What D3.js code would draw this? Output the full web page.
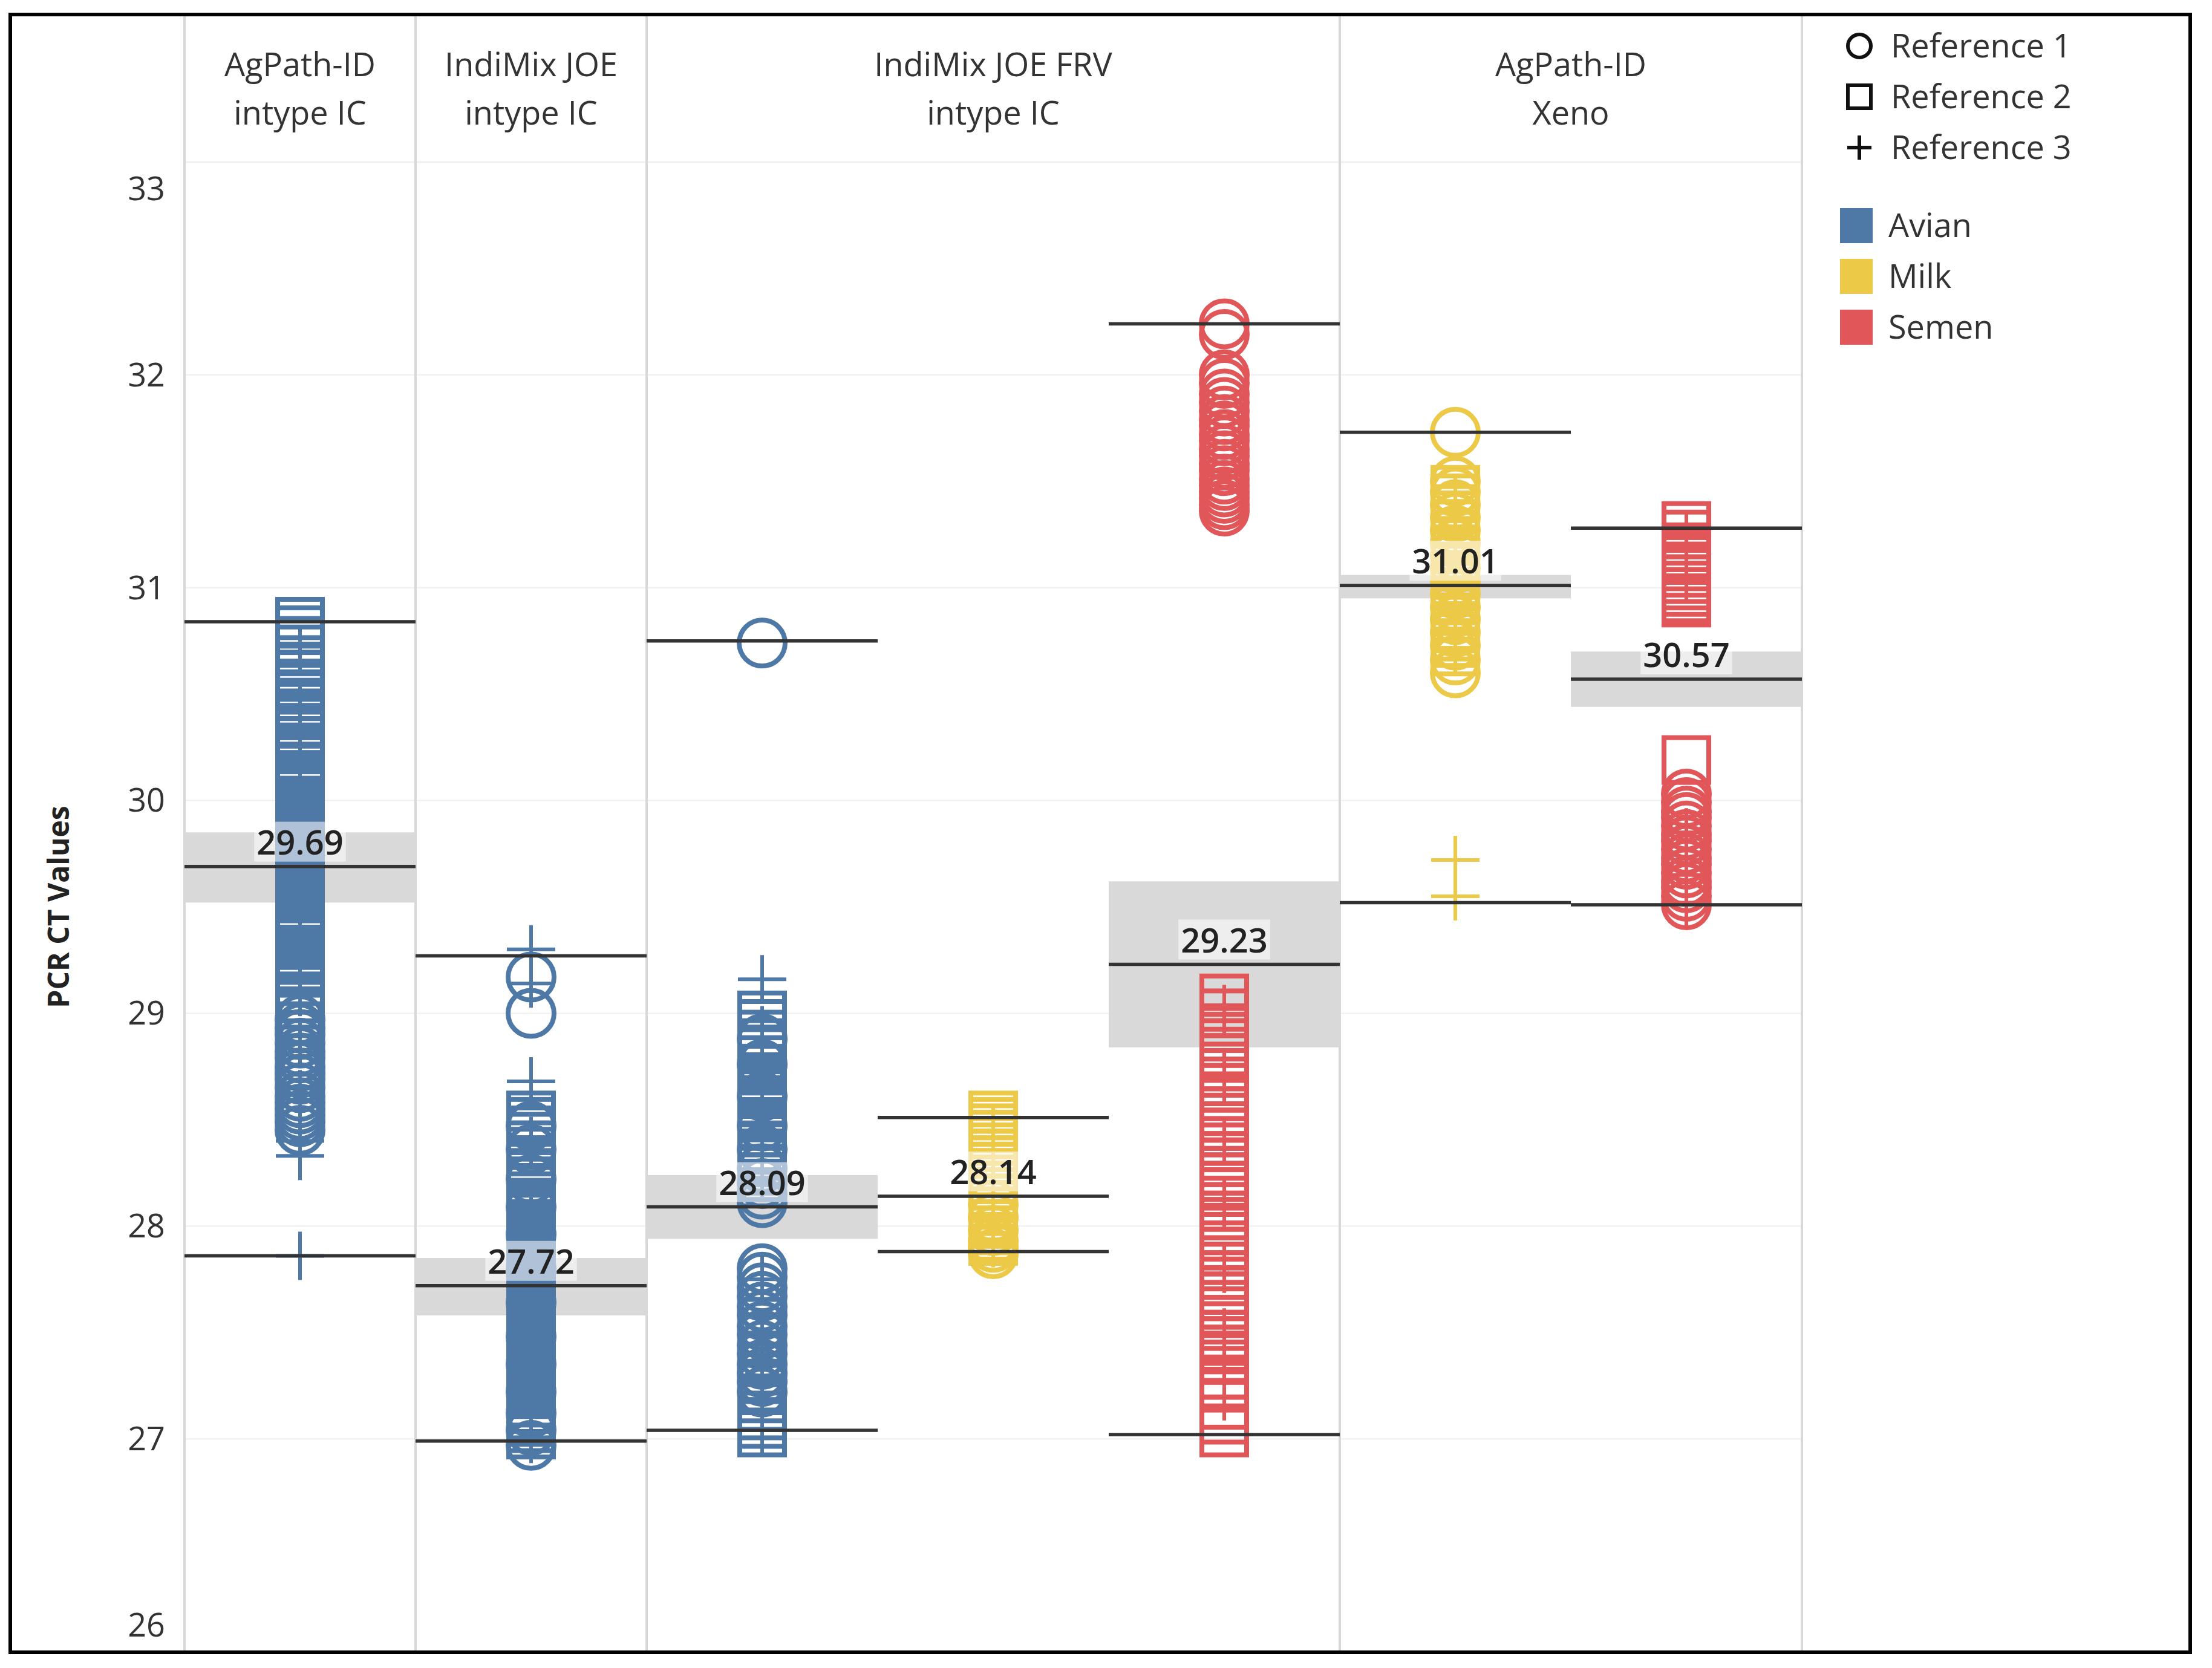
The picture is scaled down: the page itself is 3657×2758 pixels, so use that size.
<!DOCTYPE html>
<html><head><meta charset="utf-8">
<script src="https://cdn.jsdelivr.net/npm/d3@7"></script>
<style>body{margin:0;background:#fff}svg{display:block}</style>
</head><body>
<svg id="chart" width="3657" height="2758"></svg>
<script>
// ---------- DATA ----------
const kitNames = ["AgPath-ID\nintype IC", "IndiMix JOE\nintype IC", "IndiMix JOE FRV\nintype IC", "AgPath-ID\nXeno"];
const columnKit = [0, 1, 2, 2, 2, 3, 3];
const columnSample = ["Avian", "Avian", "Avian", "Milk", "Semen", "Milk", "Semen"];
const sampleTypes = ["Avian", "Milk", "Semen"];
const sampleColors = ["#4E79A7", "#EDC948", "#E15759"];
const referenceNames = ["Reference 1", "Reference 2", "Reference 3"];
const yTicks = [26, 27, 28, 29, 30, 31, 32, 33];

// Reference 1 (circle) CT values per column
const ref1Values = [
  [28.97, 28.93, 28.90, 28.86, 28.82, 28.79, 28.75, 28.72, 28.69, 28.65, 28.61, 28.58, 28.55, 28.52, 28.49, 28.45],
  [29.17, 29.00, 28.47, 28.36, 28.22, 28.09, 27.96, 27.80, 27.64, 27.48, 27.35, 27.22, 27.12, 27.04, 26.97],
  [30.74, 28.88, 28.76, 28.61, 28.47, 28.36, 28.27, 28.20, 28.15, 28.11,
   27.80, 27.76, 27.71, 27.67, 27.62, 27.58, 27.53, 27.49, 27.44, 27.40, 27.35, 27.31, 27.27, 27.22],
  [28.10, 28.04, 27.98, 27.93, 27.90, 27.87],
  [32.24, 32.19, 32.00, 31.96, 31.91, 31.87, 31.83, 31.79, 31.76, 31.72, 31.69, 31.65, 31.62, 31.58, 31.55, 31.51, 31.48, 31.45, 31.42, 31.39, 31.36],
  [31.73, 31.50, 31.45, 31.39, 31.33, 31.27, 31.21, 31.15, 31.09, 31.03, 30.97, 30.91, 30.85, 30.79, 30.73, 30.66, 30.60],
  [30.03, 29.99, 29.95, 29.92, 29.88, 29.84, 29.81, 29.77, 29.73, 29.70, 29.66, 29.62, 29.59, 29.55, 29.51]
];
// Reference 2 (square) CT values per column
const ref2Values = [
  [30.84, 30.80, 30.75, 30.71, 30.66, 30.62, 30.59, 30.55, 30.53, 30.49, 30.46, 30.44, 30.40, 30.37, 30.33, 30.31, 30.28, 30.24, 30.21, 30.19,
   30.15, 30.12, 30.09, 30.05, 30.03, 29.99, 29.96, 29.93, 29.90, 29.86, 29.83, 29.80, 29.77, 29.73, 29.70, 29.67, 29.64, 29.61, 29.57, 29.54,
   29.51, 29.48, 29.45, 29.41, 29.38, 29.35, 29.33, 29.29, 29.26, 29.22, 29.19, 29.15, 29.11, 29.07, 29.04, 29.00],
  [28.52, 28.49, 28.45, 28.42, 28.38, 28.35, 28.31, 28.28, 28.25, 28.21, 28.18, 28.14, 28.11, 28.08, 28.05, 28.01, 27.98, 27.95, 27.91, 27.88,
   27.85, 27.82, 27.78, 27.75, 27.72, 27.69, 27.66, 27.62, 27.59, 27.56, 27.53, 27.50, 27.46, 27.43, 27.40, 27.37, 27.33, 27.30, 27.27, 27.24,
   27.21, 27.17, 27.14, 27.11, 27.08, 27.05, 27.02],
  [28.99, 28.95, 28.90, 28.86, 28.83, 28.78, 28.74, 28.70, 28.67, 28.63, 28.59, 28.55, 28.52, 28.48, 28.44, 28.41, 28.37, 28.33, 28.30, 28.26, 28.23, 28.20,
   27.55, 27.47, 27.38, 27.29, 27.24, 27.19, 27.15, 27.11, 27.07, 27.03],
  [28.52, 28.49, 28.46, 28.43, 28.40, 28.37, 28.34, 28.31, 28.28, 28.25, 28.22, 28.19, 28.16, 28.13, 28.10, 28.07, 28.04, 28.01, 27.98, 27.95, 27.93],
  [29.07, 29.00, 28.93, 28.89, 28.86, 28.82, 28.79, 28.75, 28.72, 28.68, 28.65, 28.61, 28.58, 28.54, 28.51, 28.47, 28.44, 28.40, 28.37, 28.33,
   28.30, 28.26, 28.23, 28.19, 28.16, 28.12, 28.09, 28.05, 28.02, 27.98, 27.95, 27.91, 27.88, 27.84, 27.81, 27.77, 27.74, 27.70, 27.67, 27.63,
   27.60, 27.56, 27.53, 27.49, 27.46, 27.42, 27.38, 27.26, 27.16, 27.09, 27.03],
  [31.46, 31.42, 31.37, 31.34, 31.30, 31.25, 31.22, 31.18, 31.13, 31.10, 31.06, 31.01, 30.98, 30.94, 30.89, 30.86, 30.82, 30.77, 30.74, 30.70],
  [31.29, 31.25, 31.19, 31.16, 31.13, 31.10, 31.07, 31.04, 31.01, 30.98, 30.95, 30.93, 30.19]
];
// Reference 3 (plus) CT values per column
const ref3Values = [
  [30.70, 30.45, 30.20, 29.95, 29.60, 29.35, 29.10, 28.86, 28.62, 28.40, 28.33, 27.86],
  [29.30, 29.14, 28.68, 28.40, 28.10, 27.88, 27.50, 27.20, 27.00],
  [29.16, 28.92, 28.70, 28.45, 28.25, 27.75, 27.50, 27.28, 27.12, 27.04],
  [28.45, 28.30, 28.15, 28.00, 27.92],
  [29.02, 28.70, 28.40, 28.10, 27.80, 27.50, 27.33, 27.20],
  [31.40, 31.15, 30.90, 30.70, 29.72, 29.55],
  [31.25, 31.05, 29.85, 29.65, 29.52]
];
// Reference lines / band per column
const refMax  = [30.84, 29.27, 30.75, 28.51, 32.24, 31.73, 31.28];
const refMean = [29.69, 27.72, 28.09, 28.14, 29.23, 31.01, 30.57];
const refMin  = [27.86, 26.99, 27.04, 27.88, 27.02, 29.52, 29.51];
const bandLow  = [29.52, 27.58, 27.94, 28.14, 28.84, 30.95, 30.44];
const bandHigh = [29.85, 27.85, 28.24, 28.14, 29.62, 31.06, 30.70];

// ---------- DRAW ----------
const FONT = "'Open Sans', 'Noto Sans', sans-serif";
const svg = d3.select("#chart");
const plotTop = 268, plotBottom = 2731, plotLeft = 305, plotRight = 2979;

const y = d3.scaleLinear().domain([26, 33]).range([plotBottom, plotTop]);
const x = d3.scaleBand().domain(d3.range(columnSample.length)).range([plotLeft, plotRight]);
const color = d3.scaleOrdinal().domain(sampleTypes).range(sampleColors);
const bw = x.bandwidth();

svg.append("rect").attr("width", 3657).attr("height", 2758).attr("fill", "#fff");

// gridlines
svg.append("g").selectAll("line").data(yTicks.filter(t => t > 26 && t < 33)).join("line")
  .attr("x1", plotLeft).attr("x2", plotRight)
  .attr("y1", d => y(d)).attr("y2", d => y(d))
  .attr("stroke", "#efefef").attr("stroke-width", 2);
svg.append("line").attr("x1", plotLeft).attr("x2", plotRight).attr("y1", plotTop).attr("y2", plotTop)
  .attr("stroke", "#f0f0f0").attr("stroke-width", 3);

// kit extents
const kitExt = kitNames.map((k, ki) => {
  const cols = columnKit.map((c, i) => c === ki ? i : -1).filter(i => i >= 0);
  return [x(cols[0]), x(cols[cols.length - 1]) + bw];
});
const dividers = [plotLeft, ...kitExt.map(e => e[1])];
svg.append("g").selectAll("line").data(dividers).join("line")
  .attr("x1", d => d).attr("x2", d => d).attr("y1", 24).attr("y2", 2731)
  .attr("stroke", "#d8d8d8").attr("stroke-width", 4);

// headers
const hdr = svg.append("g").attr("font-family", FONT).attr("font-size", 54).attr("fill", "#333").attr("text-anchor", "middle");
kitNames.forEach((k, ki) => {
  const cx = (kitExt[ki][0] + kitExt[ki][1]) / 2;
  k.split("\n").forEach((line, li) => {
    hdr.append("text").attr("x", cx).attr("y", 126 + li * 80).text(line);
  });
});

// bands
svg.append("g").selectAll("rect").data(d3.range(columnSample.length)).join("rect")
  .attr("x", i => x(i)).attr("width", bw)
  .attr("y", i => y(bandHigh[i])).attr("height", i => y(bandLow[i]) - y(bandHigh[i]))
  .attr("fill", "#d9d9d9");

// marks
const R = 38, SQ = 74, PL = 40, SW = 8;
const marks = svg.append("g").attr("fill", "none");
d3.range(columnSample.length).forEach(i => {
  const cx = x(i) + bw / 2;
  const c = color(columnSample[i]);
  const g = marks.append("g").attr("stroke", c).attr("stroke-width", SW);
  g.selectAll("rect").data(ref2Values[i]).join("rect")
    .attr("x", cx - SQ / 2).attr("y", d => y(d) - SQ / 2).attr("width", SQ).attr("height", SQ);
  g.selectAll("circle").data(ref1Values[i]).join("circle")
    .attr("cx", cx).attr("cy", d => y(d)).attr("r", R);
  g.selectAll("path").data(ref3Values[i]).join("path")
    .attr("stroke-width", 6)
    .attr("d", d => `M${cx - PL},${y(d)}H${cx + PL}M${cx},${y(d) - PL}V${y(d) + PL}`);
});

// reference lines
const lines = svg.append("g").attr("stroke", "#333").attr("stroke-width", 5.5);
d3.range(columnSample.length).forEach(i => {
  [refMax[i], refMean[i], refMin[i]].forEach(v => {
    lines.append("line").attr("x1", x(i)).attr("x2", x(i) + bw).attr("y1", y(v)).attr("y2", y(v));
  });
});

// mean labels
const lab = svg.append("g").attr("font-family", FONT).attr("font-size", 56).attr("font-weight", 600).attr("text-anchor", "middle");
d3.range(columnSample.length).forEach(i => {
  const cx = x(i) + bw / 2;
  const ty = y(refMean[i]) - 20;
  const t = lab.append("text").attr("x", cx).attr("y", ty).attr("fill", "#222").text(refMean[i].toFixed(2));
  const bb = t.node().getBBox();
  lab.insert("rect", "text").attr("x", bb.x - 4).attr("y", bb.y + 6).attr("width", bb.width + 8).attr("height", bb.height - 10)
    .attr("fill", "#fff").attr("opacity", 0.55);
});

// y axis
const ax = svg.append("g").attr("font-family", FONT).attr("font-size", 54).attr("fill", "#333").attr("text-anchor", "end");
ax.selectAll("text").data(yTicks).join("text")
  .attr("x", 273)
  .attr("y", d => Math.min(Math.max(y(d), plotTop + 44), plotBottom - 44))
  .attr("dy", "0.35em").text(d => d);
svg.append("text").attr("font-family", FONT).attr("font-size", 48).attr("font-weight", "bold").attr("fill", "#222")
  .attr("text-anchor", "middle").attr("transform", `translate(114,${(plotTop + plotBottom) / 2}) rotate(-90)`)
  .text("PCR CT Values");

// legend
const lg = svg.append("g").attr("font-family", FONT).attr("font-size", 54).attr("fill", "#333");
const shapeY = [76, 160, 244];
lg.append("circle").attr("cx", 3074).attr("cy", shapeY[0]).attr("r", 19).attr("fill", "none").attr("stroke", "#111").attr("stroke-width", 6);
lg.append("rect").attr("x", 3055).attr("y", shapeY[1] - 19).attr("width", 38).attr("height", 38).attr("fill", "none").attr("stroke", "#111").attr("stroke-width", 6);
lg.append("path").attr("d", `M3054,${shapeY[2]}H3094M3074,${shapeY[2] - 20}V${shapeY[2] + 20}`).attr("stroke", "#111").attr("stroke-width", 6);
referenceNames.forEach((n, k) => lg.append("text").attr("x", 3126).attr("y", shapeY[k]).attr("dy", "0.35em").text(n));
const colY = [373, 457, 541];
sampleTypes.forEach((s, k) => {
  lg.append("rect").attr("x", 3042).attr("y", colY[k] - 29).attr("width", 54).attr("height", 58).attr("fill", color(s));
  lg.append("text").attr("x", 3122).attr("y", colY[k]).attr("dy", "0.35em").text(s);
});

// outer frame
svg.append("rect").attr("x", 17).attr("y", 24).attr("width", 3604).attr("height", 2708)
  .attr("fill", "none").attr("stroke", "#000").attr("stroke-width", 6);
</script>
</body></html>
